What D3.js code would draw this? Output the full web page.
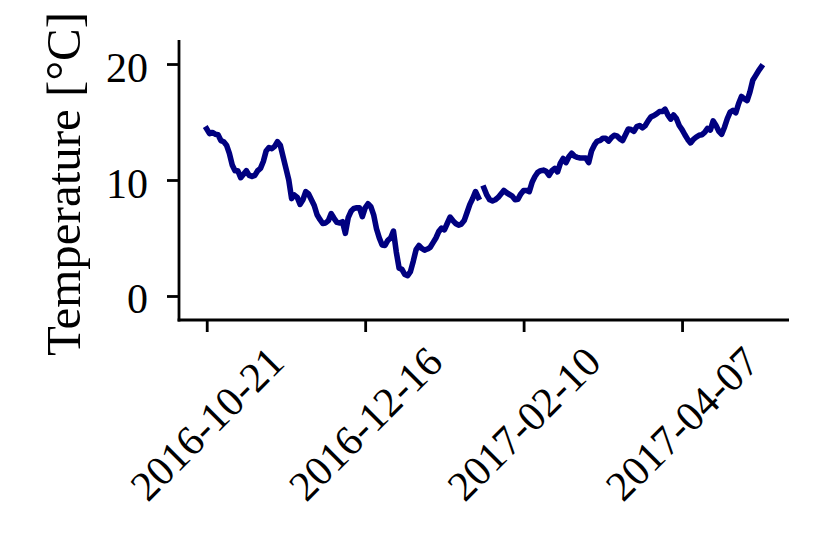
<!DOCTYPE html>
<html>
<head>
<meta charset="utf-8">
<script src="https://cdn.jsdelivr.net/npm/d3@7"></script>
<style>
  html, body { margin: 0; padding: 0; background: #fff; }
  svg { display: block; }
  text { font-family: "Liberation Serif", "DejaVu Serif", serif; fill: #000; }
</style>
</head>
<body>
<svg id="chart" width="830" height="554"></svg>
<script>
// ---- data (daily temperatures, °C; null = missing day) ----
const startDate = "2016-10-21";
const temps = [
  14.4, 14.0, 14.1, 13.95, 13.9, 13.4, 13.3, 13.0, 12.3, 11.3,
  10.8, 10.8, 10.2, 10.5, 10.8, 10.4, 10.3, 10.4, 10.8, 11.0,
  11.6, 12.5, 12.8, 12.7, 12.9, 13.3, 13.0, 12.0, 11.0, 10.0,
  8.4, 8.7, 8.5, 7.9, 8.3, 9.0, 8.8, 8.3, 7.8, 7.0,
  6.6, 6.25, 6.3, 6.5, 7.1, 6.7, 6.35, 6.3, 6.4, 5.4,
  6.75, 7.3, 7.55, 7.6, 7.6, 6.85, 7.6, 7.95, 7.7, 7.0,
  5.8, 5.0, 4.4, 4.35, 4.8, 5.0, 5.6, 3.8, 2.4, 2.3,
  1.85, 1.75, 2.1, 3.0, 4.0, 4.35, 4.1, 3.95, 4.05, 4.2,
  4.6, 5.0, 5.55, 5.85, 5.7, 6.25, 6.8, 6.5, 6.25, 6.1,
  6.2, 6.5, 7.2, 7.9, 8.4, 9.0, 8.5, null, 9.3, 8.7,
  8.3, 8.2, 8.3, 8.5, 8.8, 9.1, 8.9, 8.75, 8.6, 8.3,
  8.35, 8.8, 9.1, 9.1, 9.0, 9.8, 10.3, 10.65, 10.8, 10.85,
  10.75, 10.4, 10.8, 11.0, 10.7, 11.45, 11.85, 11.5, 12.0, 12.3,
  12.05, 11.95, 11.9, 11.9, 11.9, 11.5, 12.5, 13.0, 13.35, 13.4,
  13.6, 13.6, 13.35, 13.65, 13.85, 13.8, 13.55, 13.4, 13.9, 14.4,
  14.35, 14.2, 14.6, 14.7, 14.5, 14.7, 15.1, 15.45, 15.55, 15.7,
  15.9, 15.9, 16.1, 15.6, 15.25, 15.6, 15.3, 14.7, 14.35, 13.9,
  13.5, 13.2, 13.5, 13.7, 13.85, 13.9, 14.1, 14.45, 14.3, 15.1,
  14.7, 14.2, 13.95, 14.55, 15.3, 15.85, 16.0, 15.8, 16.6, 17.2,
  17.0, 16.85, 17.6, 18.6, 19.0, 19.4, 19.75
];
const xTickLabels = ["2016-10-21", "2016-12-16", "2017-02-10", "2017-04-07"];
const yTickValues = [0, 10, 20];
const yLabel = "Temperature [°C]";

// ---- build rows ----
const parse = d3.utcParse("%Y-%m-%d");
const t0 = parse(startDate);
const dayMs = 864e5;
const rows = temps.map((v, i) => ({ date: new Date(t0.getTime() + i * dayMs), value: v }));

// ---- layout ----
const svg = d3.select("#chart");
const plotL = 179, plotR = 789, plotT = 40, plotB = 320;

const nDays = temps.length - 1;
const padDays = nDays * 0.05;
const x = d3.scaleUtc()
  .domain([new Date(t0.getTime() - padDays * dayMs), new Date(t0.getTime() + (nDays + padDays) * dayMs)])
  .range([plotL, plotR]);
const y = d3.scaleLinear().domain([-2.07, 22.07]).range([plotB, plotT]);

// ---- line ----
const line = d3.line()
  .defined(d => d.value !== null)
  .x(d => x(d.date))
  .y(d => y(d.value));

svg.append("path")
  .datum(rows)
  .attr("d", line)
  .attr("fill", "none")
  .attr("stroke", "#000080")
  .attr("stroke-width", 5.6)
  .attr("stroke-linejoin", "round")
  .attr("stroke-linecap", "square");

// ---- axes ----
const fmt = d3.utcFormat("%Y-%m-%d");
const xAxis = d3.axisBottom(x)
  .tickValues(xTickLabels.map(parse))
  .tickFormat(fmt)
  .tickSize(12)
  .tickSizeOuter(0);
const yAxis = d3.axisLeft(y)
  .tickValues(yTickValues)
  .tickFormat(d3.format("d"))
  .tickSize(12)
  .tickSizeOuter(0);

const gx = svg.append("g").attr("transform", `translate(0,${plotB})`).call(xAxis);
const gy = svg.append("g").attr("transform", `translate(${plotL},0)`).call(yAxis);

[gx, gy].forEach(g => {
  g.select(".domain").attr("stroke", "#000").attr("stroke-width", 2.8);
  g.selectAll(".tick line").attr("stroke", "#000").attr("stroke-width", 2.8);
});
gx.select(".domain").attr("d", `M${plotL - 1.4},0H${plotR}`);
gy.select(".domain").attr("d", `M0,${plotT}V${plotB + 1.4}`);

// y tick labels
gy.selectAll(".tick text")
  .attr("x", -31)
  .attr("dy", null)
  .attr("y", 17)
  .attr("text-anchor", "end")
  .style("font-size", "42px")
  .style("font-family", '"Liberation Serif", serif');

// x tick labels rotated 45°, centred on tick
gx.selectAll(".tick text")
  .style("font-size", "42px")
  .style("font-family", '"Liberation Serif", serif')
  .attr("text-anchor", "middle")
  .attr("y", null)
  .attr("dy", "0.33em")
  .attr("transform", "translate(0,104) rotate(-45)");

// y axis label
svg.append("text")
  .attr("transform", `translate(80,184) rotate(-90)`)
  .attr("text-anchor", "middle")
  .style("font-size", "49px")
  .text(yLabel);
</script>
</body>
</html>
